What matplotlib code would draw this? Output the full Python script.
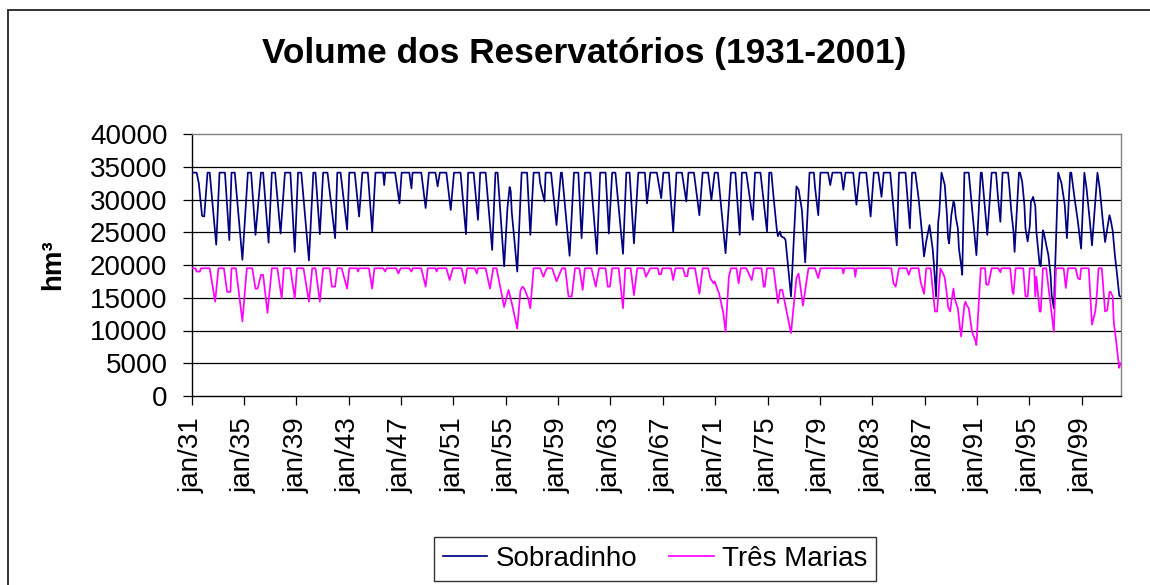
import matplotlib
matplotlib.use("Agg")
import matplotlib.pyplot as plt
from matplotlib.patches import Rectangle

plt.rcParams['font.family'] = ['Liberation Sans', 'DejaVu Sans']

title = "Volume dos Reservatórios (1931-2001)"
y_label = "hm³"
series_names = ["Sobradinho", "Três Marias"]
first_year = 1931
n_months = 852
tick_years = list(range(1931, 2000, 4))
tick_labels = ["jan/%02d" % (y % 100) for y in tick_years]
y_ticks = [0, 5000, 10000, 15000, 20000, 25000, 30000, 35000, 40000]

# Sobradinho readings (month, hm3)
sob_dates = [
    "1931-01", "1931-05", "1931-07", "1931-10", "1931-12",
    "1932-03", "1932-05", "1932-11",
    "1933-02", "1933-07", "1933-11",
    "1934-01", "1934-04", "1934-11",
    "1935-04", "1935-07", "1935-11",
    "1936-04", "1936-06", "1936-11",
    "1937-02", "1937-05", "1937-10",
    "1938-02", "1938-07", "1938-11",
    "1939-02", "1939-05", "1939-12",
    "1940-04", "1940-06", "1940-10",
    "1941-01", "1941-05", "1941-12",
    "1942-02", "1942-05", "1942-11",
    "1943-01", "1943-06", "1943-10",
    "1944-01", "1944-06", "1944-10",
    "1945-01", "1945-08", "1945-09", "1945-10",
    "1946-07", "1946-11",
    "1947-01", "1947-08", "1947-10", "1947-11",
    "1948-07", "1948-11",
    "1949-02", "1949-08", "1949-10", "1949-12",
    "1950-06", "1950-10",
    "1951-01", "1951-07", "1951-12",
    "1952-02", "1952-07", "1952-11",
    "1953-01", "1953-06", "1953-12",
    "1954-03", "1954-05", "1954-11",
    "1955-02", "1955-04", "1955-05", "1955-06", "1955-08", "1955-11",
    "1956-03", "1956-08", "1956-11",
    "1957-02", "1957-07", "1957-08", "1957-12",
    "1958-01", "1958-06", "1958-11",
    "1959-03", "1959-04", "1959-11",
    "1960-03", "1960-07", "1960-10",
    "1961-01", "1961-06", "1961-12",
    "1962-03", "1962-08", "1962-11",
    "1963-02", "1963-05", "1963-12",
    "1964-03", "1964-06", "1964-10",
    "1965-02", "1965-08", "1965-10",
    "1966-01", "1966-07", "1966-11",
    "1967-01", "1967-06", "1967-10",
    "1968-01", "1968-06", "1968-10", "1968-12",
    "1969-05", "1969-10",
    "1970-01", "1970-06", "1970-09", "1970-12",
    "1971-03", "1971-10",
    "1972-03", "1972-07", "1972-11",
    "1973-01", "1973-05", "1973-11",
    "1974-01", "1974-06", "1974-12",
    "1975-02", "1975-04", "1975-06", "1975-09", "1975-10", "1975-12",
    "1976-01", "1976-04", "1976-05", "1976-10",
    "1977-03", "1977-05", "1977-08", "1977-11",
    "1978-03", "1978-07", "1978-08", "1978-11",
    "1979-01", "1979-08", "1979-10", "1979-12",
    "1980-08", "1980-10", "1980-12",
    "1981-07", "1981-10",
    "1982-01", "1982-07", "1982-11",
    "1983-02", "1983-06", "1983-09", "1983-11",
    "1984-05", "1984-11",
    "1985-01", "1985-07", "1985-11",
    "1986-01", "1986-04", "1986-07", "1986-10", "1986-12",
    "1987-02", "1987-05", "1987-06", "1987-08", "1987-09", "1987-11",
    "1988-01", "1988-02", "1988-04", "1988-07", "1988-09", "1988-10", "1988-11",
    "1989-01", "1989-03", "1989-04", "1989-05", "1989-07", "1989-08", "1989-10", "1989-11",
    "1990-01", "1990-05", "1990-12",
    "1991-04", "1991-05", "1991-10",
    "1992-02", "1992-06", "1992-08", "1992-10", "1992-12",
    "1993-05", "1993-06", "1993-08", "1993-10", "1993-11",
    "1994-03", "1994-04", "1994-06", "1994-08", "1994-09", "1994-11",
    "1995-01", "1995-02", "1995-04", "1995-06", "1995-07", "1995-10", "1995-11",
    "1996-01", "1996-02", "1996-04", "1996-06", "1996-08", "1996-09", "1996-11",
    "1997-03", "1997-06", "1997-09", "1997-11",
    "1998-02", "1998-03", "1998-06", "1998-09", "1998-12",
    "1999-03", "1999-05", "1999-08", "1999-10",
    "2000-03", "2000-05", "2000-08", "2000-10",
    "2001-02", "2001-03", "2001-05", "2001-07", "2001-09", "2001-11", "2001-12",
]
sob_values = [
    34100, 34100, 32500, 27500, 27400,
    34100, 34100, 23100,
    34100, 34100, 23800,
    34100, 34100, 20800,
    34100, 34100, 24600,
    34100, 34100, 23400,
    34100, 34100, 24800,
    34100, 34100, 22000,
    34100, 34100, 20700,
    34100, 34100, 24700,
    34100, 34100, 24100,
    34100, 34100, 25400,
    34100, 34100, 27400,
    34100, 34100, 25100,
    34100, 34100, 32200, 34100,
    34100, 29400,
    34100, 34100, 31700, 34100,
    34100, 28700,
    34100, 34100, 32000, 34100,
    34100, 28400,
    34100, 34100, 24700,
    34100, 34100, 26900,
    34100, 34100, 22300,
    34100, 34100, 19800,
    28700, 31900, 31300, 28000, 24500, 19000,
    34100, 34100, 24600,
    34100, 34100, 32500, 29700,
    34100, 34100, 26100,
    34100, 34100, 21400,
    34100, 34100, 24100,
    34100, 34100, 21700,
    34100, 34100, 24800,
    34100, 34100, 21700,
    34100, 34100, 23300,
    34100, 34100, 29400,
    34100, 34100, 30200,
    34100, 34100, 25100,
    34100, 34100, 29700, 34100,
    34100, 27600,
    34100, 34100, 29900, 34100,
    34100, 21800,
    34100, 34100, 24600,
    34100, 34100, 26900,
    34100, 34100, 25100,
    34100, 34100, 30400, 25400, 24400, 25100,
    24400, 24100, 23800, 15200,
    32000, 31500, 28400, 20400,
    34100, 34100, 31900, 27600,
    34100, 34100, 32200, 34100,
    34100, 31500, 34100,
    34100, 29200,
    34100, 34100, 27400,
    34100, 34100, 30400, 34100,
    34100, 23000,
    34100, 34100, 25600,
    34100, 34100, 30200, 25100, 21300,
    23600, 26100, 24800, 22300, 20200, 15200,
    26600, 28000, 34100, 32200, 27600, 24100, 23300,
    27600, 29700, 29200, 27400, 25600, 22500, 20000, 18500,
    34100, 34100, 21500,
    34100, 34100, 24600,
    34100, 34100, 29900, 26600, 34100,
    34100, 32400, 28200, 25100, 22000,
    34100, 34100, 32700, 29200, 25600, 23600,
    26000, 29600, 30400, 29000, 25100, 20000, 19800,
    25300, 24800, 23100, 21500, 18500, 15400, 13400,
    34100, 32500, 29200, 24100,
    34100, 34100, 30200, 26700, 22500,
    34100, 31700, 26700, 23000,
    34100, 31800, 26600, 23500,
    27600, 27000, 25200, 21500, 18500, 15300, 15200,
]

# Tres Marias readings (month, hm3)
tm_dates = [
    "1931-01", "1931-04", "1931-05", "1931-08", "1931-09",
    "1932-05", "1932-08", "1932-10",
    "1933-01", "1933-06", "1933-09", "1933-12",
    "1934-01", "1934-05", "1934-11",
    "1935-03", "1935-08", "1935-11",
    "1936-01", "1936-04", "1936-06", "1936-10",
    "1937-02", "1937-07", "1937-11",
    "1938-01", "1938-07", "1938-11",
    "1939-01", "1939-07", "1939-12",
    "1940-03", "1940-06", "1940-10",
    "1941-01", "1941-07", "1941-09", "1941-12",
    "1942-02", "1942-06", "1942-11",
    "1943-01", "1943-08", "1943-09", "1943-10",
    "1944-07", "1944-10", "1944-12",
    "1945-08", "1945-10", "1945-11",
    "1946-08", "1946-10", "1946-12",
    "1947-08", "1947-10", "1947-11",
    "1948-07", "1948-11",
    "1949-01", "1949-08", "1949-09", "1949-10",
    "1950-06", "1950-09", "1950-12",
    "1951-08", "1951-11",
    "1952-01", "1952-08", "1952-10", "1952-11",
    "1953-06", "1953-10",
    "1954-01", "1954-04", "1954-11",
    "1955-03", "1955-06", "1955-11",
    "1956-02", "1956-04", "1956-06", "1956-09", "1956-11",
    "1957-02", "1957-08", "1957-11",
    "1958-02", "1958-07", "1958-11",
    "1959-04", "1959-07", "1959-10",
    "1960-01", "1960-04", "1960-08", "1960-11",
    "1961-01", "1961-07", "1961-11",
    "1962-02", "1962-08", "1962-10", "1962-12",
    "1963-02", "1963-08", "1963-12",
    "1964-02", "1964-07", "1964-10",
    "1965-01", "1965-07", "1965-09",
    "1966-01", "1966-08", "1966-09", "1966-11", "1966-12",
    "1967-08", "1967-10", "1967-12",
    "1968-07", "1968-09", "1968-11", "1968-12",
    "1969-06", "1969-10",
    "1970-01", "1970-06", "1970-08", "1970-11", "1970-12",
    "1971-04", "1971-06", "1971-08", "1971-10",
    "1972-01", "1972-03", "1972-08", "1972-10", "1972-12",
    "1973-05", "1973-10", "1973-12",
    "1974-07", "1974-09", "1974-10", "1974-12",
    "1975-06", "1975-10", "1975-12",
    "1976-02", "1976-10",
    "1977-03", "1977-05", "1977-09",
    "1978-02", "1978-08", "1978-11",
    "1979-01",
    "1980-09", "1980-10", "1980-11",
    "1981-08", "1981-09", "1981-10",
    "1984-06", "1984-08", "1984-10",
    "1985-01", "1985-08", "1985-10", "1985-12",
    "1986-07", "1986-09", "1986-12",
    "1987-02", "1987-06", "1987-08", "1987-10", "1987-12",
    "1988-03", "1988-06", "1988-07", "1988-09", "1988-10", "1988-12",
    "1989-01", "1989-03", "1989-04", "1989-07", "1989-09", "1989-10",
    "1990-01", "1990-02", "1990-03", "1990-05", "1990-08", "1990-11", "1990-12",
    "1991-04", "1991-08", "1991-09", "1991-11",
    "1992-02", "1992-08", "1992-10", "1992-11",
    "1993-07", "1993-09", "1993-10", "1993-12",
    "1994-07", "1994-09", "1994-11",
    "1995-01", "1995-05", "1995-06", "1995-07", "1995-10", "1995-11",
    "1996-01", "1996-04", "1996-11",
    "1997-01", "1997-08", "1997-10", "1997-12",
    "1998-07", "1998-09", "1998-11", "1998-12",
    "1999-07", "1999-10",
    "2000-01", "2000-02", "2000-04", "2000-07", "2000-10", "2000-12",
    "2001-02", "2001-03", "2001-05", "2001-06", "2001-08", "2001-10", "2001-11", "2001-12",
]
tm_values = [
    19500, 19500, 19000, 19000, 19500,
    19500, 16500, 14400,
    19500, 19500, 15900, 15900,
    19500, 19500, 11400,
    19500, 19500, 16400,
    16400, 18500, 18500, 12700,
    19500, 19500, 14900,
    19500, 19500, 14900,
    19500, 19500, 14400,
    19500, 19500, 14400,
    19500, 19500, 16700, 16700,
    19500, 19500, 16400,
    19500, 19500, 19000, 19500,
    19500, 16400, 19500,
    19500, 19000, 19500,
    19500, 18700, 19500,
    19500, 19000, 19500,
    19500, 16700,
    19500, 19500, 19000, 19500,
    19500, 17700, 19500,
    19500, 17200,
    19500, 19500, 18700, 19500,
    19500, 16400,
    19500, 19500, 13600,
    16200, 14200, 10300,
    16200, 16700, 16200, 14900, 13400,
    19500, 19500, 18200,
    19500, 19500, 17500,
    19500, 19500, 15200,
    15200, 19500, 19500, 16200,
    19500, 19500, 16700,
    19500, 19500, 16700, 16700,
    19500, 19500, 13400,
    19500, 19500, 15400,
    19500, 19500, 18200,
    19500, 19500, 18600, 18600, 19500,
    19500, 17700, 19500,
    19500, 18300, 18300, 19500,
    19500, 15600,
    19500, 19500, 18000, 17200, 17500,
    15700, 14200, 12600, 9800,
    18200, 19500, 19500, 17200, 19500,
    19500, 17700, 19500,
    19500, 16700, 16700, 19500,
    19500, 14200, 16200,
    16200, 9600,
    18000, 18700, 13800,
    19500, 19500, 18000,
    19500,
    19500, 18700, 19500,
    19500, 18200, 19500,
    19500, 17200, 16700,
    19500, 19500, 18500, 19500,
    19500, 17300, 15600,
    19500, 19500, 16200, 12900, 12900,
    19500, 18500, 18000, 15400, 13600, 12900,
    14400, 16400, 14900, 13400, 10300, 9100,
    13900, 14400, 13900, 13400, 9800, 8500, 7800,
    19500, 19500, 17000, 17000,
    19500, 19500, 18900, 19500,
    19500, 16000, 15600, 19500,
    19500, 15200, 15200,
    19500, 19500, 15200, 18200, 12900, 12900,
    19500, 19500, 9800,
    19500, 19500, 16500, 19500,
    19500, 18000, 17800, 19500,
    19500, 10900,
    12900, 14400, 19500, 19500, 12900, 13100,
    15900, 15900, 15200, 11200, 8600, 5600, 4300, 5000,
]

assert len(sob_dates) == len(sob_values)
assert len(tm_dates) == len(tm_values)


def month_index(d):
    return (int(d[:4]) - first_year) * 12 + int(d[5:7]) - 1


W, H = 1150, 585
fig = plt.figure(figsize=(W / 100, H / 100), dpi=100)
fig.patch.set_facecolor('white')

# outer chart border (cut at right and bottom)
fig.add_artist(Rectangle((7.5 / W, -0.2), 3.0, (H - 10) / H + 0.2,
                         transform=fig.transFigure, fill=False,
                         edgecolor='#222222', linewidth=1.3))

ax = fig.add_axes([191.7 / W, (H - 396) / H, (1120.9 - 191.7) / W, (396 - 134) / H])

for yv in y_ticks[1:-1]:
    ax.axhline(yv, color='black', linewidth=0.9, zorder=1)

sx = [month_index(d) for d in sob_dates]
tx = [month_index(d) for d in tm_dates]
ax.plot(sx, sob_values, color='#000080', linewidth=1.25, label=series_names[0], zorder=3)
ax.plot(tx, tm_values, color='#FF00FF', linewidth=1.25, label=series_names[1], zorder=3)

ax.set_xlim(-0.5, n_months - 0.5)
ax.set_ylim(y_ticks[0], y_ticks[-1])
ax.set_yticks(y_ticks)
ax.set_yticklabels([str(v) for v in y_ticks], fontsize=20)
ax.set_xticks([(y - first_year) * 12 - 0.5 for y in tick_years])
ax.set_xticklabels(tick_labels, rotation=90, fontsize=20)

ax.tick_params(axis='y', direction='out', length=6.5, width=0.9, pad=11, color='black')
ax.tick_params(axis='x', direction='out', length=6.5, width=0.9, pad=9, color='black')
for lab in ax.get_xticklabels():
    lab.set_verticalalignment('top')
    lab.set_horizontalalignment('center')

ax.spines['left'].set_color('black')
ax.spines['bottom'].set_color('black')
ax.spines['top'].set_color('#808080')
ax.spines['right'].set_color('#808080')
for s in ax.spines.values():
    s.set_linewidth(1.0)

fig.text(584.5 / W, (H - 62.7) / H, title, ha='center', va='baseline',
         fontsize=25.4, fontweight='bold')
fig.text(53 / W, (H - 265) / H, y_label, ha='center', va='center',
         rotation=90, fontsize=20, fontweight='bold')

leg = fig.legend(loc='center', bbox_to_anchor=(655 / W, (H - 559) / H),
                 ncol=2, fontsize=20, frameon=True, fancybox=False,
                 edgecolor='black', handlelength=1.6, handletextpad=0.3,
                 columnspacing=1.15, borderpad=0.33, borderaxespad=0)
leg.get_frame().set_linewidth(1.0)
for line in leg.get_lines():
    line.set_linewidth(1.25)

fig.savefig("out.png", dpi=100, facecolor='white')
